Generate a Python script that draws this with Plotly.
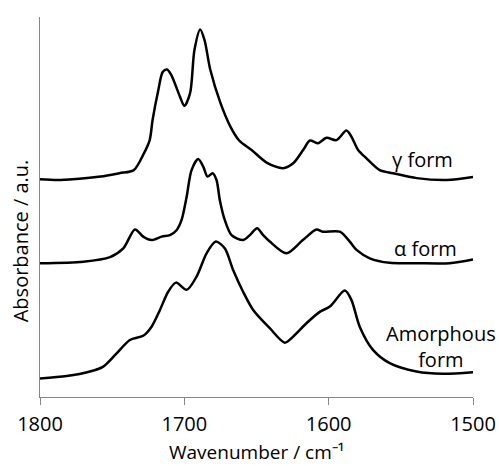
import plotly.graph_objects as go

# Wavenumber (cm-1) and absorbance (a.u., offset per form) for each spectrum
gamma_wn = [1800, 1786, 1758, 1745, 1735, 1728, 1724, 1722, 1718, 1715, 1712, 1709,
            1703, 1700, 1696, 1693, 1689, 1686, 1682, 1675, 1668, 1662, 1653.4, 1643,
            1631.6, 1624.6, 1617.7, 1613, 1607.3, 1601.5, 1594.6, 1587.7, 1584.2, 1579.6,
            1573.8, 1564.6, 1555.6, 1539, 1518.2, 1500]
gamma_abs = [0.573, 0.571, 0.580, 0.589, 0.597, 0.641, 0.676, 0.729, 0.808, 0.855, 0.862, 0.847,
             0.790, 0.766, 0.800, 0.913, 0.967, 0.939, 0.861, 0.774, 0.711, 0.675, 0.650, 0.617,
             0.602, 0.615, 0.650, 0.675, 0.668, 0.682, 0.676, 0.701, 0.685, 0.650,
             0.628, 0.597, 0.589, 0.576, 0.571, 0.579]

alpha_wn = [1800, 1770, 1751.5, 1742.3, 1734.2, 1728.5, 1722.7, 1715.7, 1710, 1705.4, 1701.9,
            1698.4, 1695, 1690.4, 1686.9, 1683.9, 1680.4, 1677.7, 1675.4, 1672, 1667.3, 1659.3,
            1654.6, 1649.6, 1645.4, 1640.8, 1629.2, 1617.9, 1608.4, 1604.1, 1592.3, 1585.4,
            1580.7, 1571.5, 1557.7, 1539.2, 1516.2, 1500]
alpha_abs = [0.352, 0.356, 0.368, 0.391, 0.441, 0.422, 0.413, 0.422, 0.426, 0.439, 0.466,
             0.527, 0.597, 0.626, 0.606, 0.580, 0.589, 0.571, 0.518, 0.466, 0.426, 0.413,
             0.426, 0.444, 0.426, 0.409, 0.378, 0.413, 0.441, 0.435, 0.435, 0.409,
             0.387, 0.365, 0.353, 0.352, 0.352, 0.362]

amorph_wn = [1800, 1781.5, 1765.4, 1756.2, 1746.9, 1737.7, 1728.5, 1722.7, 1716.9, 1711.2,
             1705.8, 1698.4, 1691.5, 1684.6, 1678.2, 1671.9, 1666.2, 1659.3, 1652.3, 1640.8,
             1630.4, 1624.6, 1615.4, 1606.2, 1599.2, 1588.8, 1584.2, 1578.5, 1569.3, 1557.7,
             1539.2, 1521, 1500]
amorph_abs = [0.049, 0.055, 0.067, 0.080, 0.115, 0.150, 0.161, 0.185, 0.229, 0.277,
              0.301, 0.282, 0.317, 0.378, 0.409, 0.391, 0.334, 0.277, 0.229, 0.181,
              0.143, 0.159, 0.194, 0.224, 0.238, 0.280, 0.255, 0.185, 0.124, 0.089,
              0.067, 0.061, 0.065]

x_ticks = [1800, 1700, 1600, 1500]

FONT = "Open Sans, Liberation Sans, sans-serif"
AXIS_GREY = "#868686"

fig = go.Figure()
for wn, ab in [(gamma_wn, gamma_abs), (alpha_wn, alpha_abs), (amorph_wn, amorph_abs)]:
    fig.add_trace(go.Scatter(
        x=wn, y=ab, mode="lines",
        line=dict(color="black", width=2.5, shape="spline", smoothing=0.8),
        showlegend=False, hoverinfo="skip",
    ))

# Curve labels
labels = [
    (1534.8, 0.624, "γ form"),
    (1533.0, 0.391, "α form"),
    (1521.9, 0.132, "Amorphous<br>form"),
]
for x, y, txt in labels:
    fig.add_annotation(x=x, y=y, xref="x", yref="y", text=txt, showarrow=False,
                       font=dict(family=FONT, size=20, color="black"),
                       xanchor="center", yanchor="middle", align="center")

# Axis titles
fig.add_annotation(x=-0.046, y=0.41, xref="paper", yref="paper",
                   text="Absorbance / a.u.", textangle=-90, showarrow=False,
                   font=dict(family=FONT, size=20, color="black"),
                   xanchor="center", yanchor="middle")
fig.add_annotation(x=0.5, y=-0.1815, xref="paper", yref="paper",
                   text="Wavenumber / cm⁻¹", showarrow=False,
                   font=dict(family=FONT, size=19, color="black"),
                   xanchor="center", yanchor="bottom", borderpad=0)

fig.update_layout(
    width=499, height=466,
    margin=dict(l=40, r=26, t=17, b=69, autoexpand=False),
    plot_bgcolor="white", paper_bgcolor="white",
    font=dict(family=FONT, size=20, color="black"),
    showlegend=False,
)
fig.update_xaxes(
    range=[1800, 1500], tickvals=x_ticks, ticktext=[str(t) for t in x_ticks],
    showline=True, linecolor=AXIS_GREY, linewidth=1,
    ticks="outside", ticklen=7, tickcolor=AXIS_GREY, tickwidth=1,
    showgrid=False, zeroline=False, automargin=False, ticklabelstandoff=2,
    tickfont=dict(family=FONT, size=20, color="black"),
)
fig.update_yaxes(
    range=[0, 1], showline=True, linecolor=AXIS_GREY, linewidth=1,
    showticklabels=False, ticks="", showgrid=False, zeroline=False, automargin=False,
)

fig.write_html("out.html")
